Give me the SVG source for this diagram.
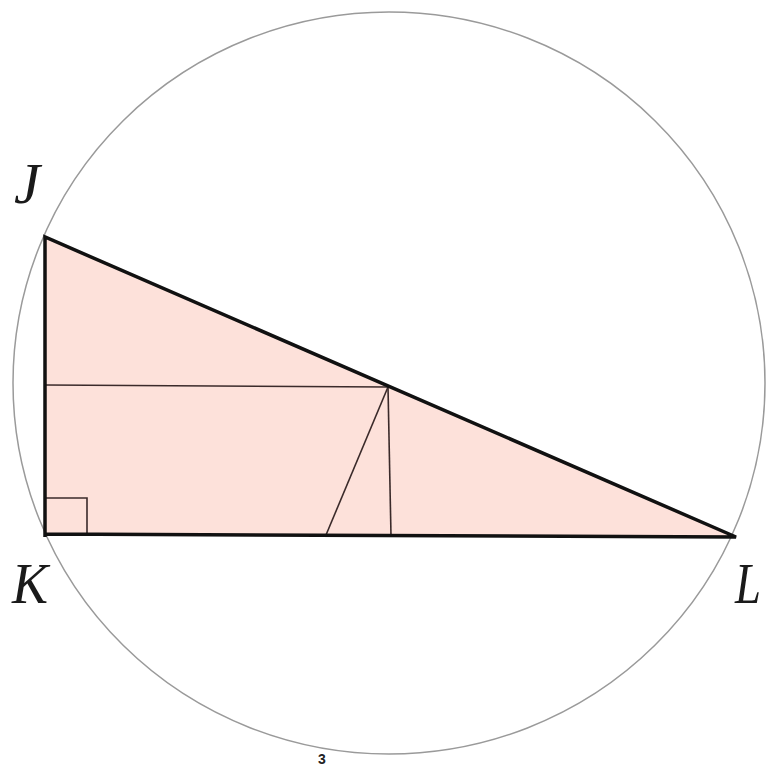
<svg xmlns="http://www.w3.org/2000/svg" width="769" height="771" viewBox="0 0 769 771">
<style>
.lbl{font-family:"Liberation Serif",serif;font-style:italic;font-size:58px;fill:#1a1a1a}
.thin{stroke:#3a2a2a;stroke-width:1.6;fill:none}
.thick{stroke:#111;stroke-width:3.5;fill:none;stroke-linejoin:miter}
</style>
<rect width="769" height="771" fill="#fff"/>
<ellipse cx="389" cy="383" rx="376" ry="371" fill="none" stroke="#9a9a9a" stroke-width="1.5"/>
<g id="triangle">
<polygon points="45,237 46,534 736,537" fill="#fde1da"/>
</g>
<g id="connectors">
<line class="thin" x1="46" y1="385" x2="388" y2="387"/>
<line class="thin" x1="388" y1="387" x2="391" y2="536"/>
<line class="thin" x1="388" y1="387" x2="326" y2="535"/>
<polyline class="thin" points="46,498 87,498 87,534" stroke-width="2.2"/>
<polyline class="thick" points="45,537 45,237 736,537 45,534"/>
</g>
<g id="J"><text class="lbl" x="14" y="203" textLength="26" lengthAdjust="spacingAndGlyphs">J</text></g>
<g id="K"><text class="lbl" x="12" y="603" textLength="36" lengthAdjust="spacingAndGlyphs">K</text></g>
<g id="L"><text class="lbl" x="735" y="603" textLength="26" lengthAdjust="spacingAndGlyphs">L</text></g>
<g id="page"><text x="318" y="764" font-family="Liberation Sans,sans-serif" font-weight="bold" font-size="14" fill="#222">3</text></g>
</svg>
